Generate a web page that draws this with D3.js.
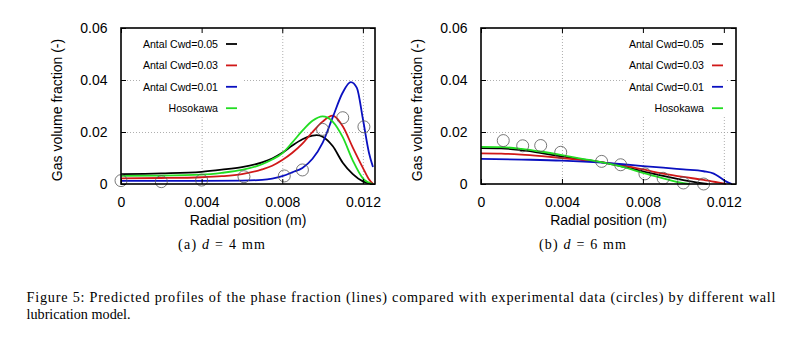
<!DOCTYPE html>
<html><head><meta charset="utf-8">
<script src="https://cdn.jsdelivr.net/npm/d3@7"></script>
<style>body{margin:0;background:#fff}svg{display:block}</style>
</head><body>
<svg id="c" width="800" height="349"></svg>
<script>
// ---------- data ----------
const seriesNames = ["Antal Cwd=0.05","Antal Cwd=0.03","Antal Cwd=0.01","Hosokawa"];
const seriesColors = ["#000000","#d01818","#0a10c0","#22dd22"];
const xTicks = [0, 0.004, 0.008, 0.012];
const xTickLabels = ["0","0.004","0.008","0.012"];
const yTicks = [0, 0.02, 0.04, 0.06];
const yTickLabels = ["0","0.02","0.04","0.06"];

// panel (a) d = 4 mm
const a_black = [[0,0.0038],[0.002,0.0041],[0.004,0.0047],[0.005,0.0055],[0.006,0.0065],[0.007,0.0083],[0.0075,0.0098],[0.008,0.0120],[0.0085,0.0148],[0.009,0.0172],[0.0095,0.0186],[0.0097,0.0188],[0.010,0.0182],[0.0105,0.0146],[0.011,0.0082],[0.0115,0.0038],[0.012,0.0010],[0.0125,0]];
const a_red = [[0,0.0022],[0.002,0.0023],[0.004,0.0026],[0.005,0.0030],[0.006,0.0038],[0.007,0.0056],[0.0075,0.0070],[0.008,0.0092],[0.0085,0.0120],[0.009,0.0155],[0.0095,0.0200],[0.010,0.0240],[0.0105,0.0263],[0.011,0.0222],[0.0115,0.0140],[0.012,0.0062],[0.0123,0.0018],[0.0125,0]];
const a_blue = [[0,0.0012],[0.004,0.0012],[0.006,0.0013],[0.007,0.0016],[0.0075,0.0021],[0.008,0.0030],[0.0085,0.0045],[0.009,0.0062],[0.0095,0.0097],[0.010,0.0158],[0.0105,0.0256],[0.011,0.0352],[0.0114,0.0392],[0.0117,0.0370],[0.012,0.0250],[0.0123,0.0120],[0.0125,0.0065]];
const a_green = [[0,0.0031],[0.002,0.0032],[0.004,0.0036],[0.005,0.0043],[0.006,0.0054],[0.007,0.0076],[0.0075,0.0094],[0.008,0.0118],[0.0085,0.0160],[0.009,0.0205],[0.0095,0.0243],[0.010,0.0260],[0.0105,0.0240],[0.011,0.0180],[0.0115,0.0090],[0.012,0.0022],[0.0125,0]];
const a_exp = [[0,0.0013],[0.002,0.0009],[0.004,0.0015],[0.0061,0.0028],[0.0081,0.0031],[0.009,0.0054],[0.010,0.021],[0.011,0.0255],[0.01205,0.022]];

// panel (b) d = 6 mm
const b_black = [[0,0.0138],[0.001,0.0137],[0.002,0.0130],[0.003,0.0119],[0.004,0.0106],[0.005,0.0095],[0.006,0.0083],[0.007,0.0067],[0.008,0.0049],[0.009,0.0031],[0.010,0.0015],[0.0105,0.0008],[0.0112,0]];
const b_red = [[0,0.0118],[0.001,0.0117],[0.002,0.0113],[0.003,0.0107],[0.004,0.0100],[0.005,0.0092],[0.006,0.0083],[0.007,0.0072],[0.008,0.0056],[0.009,0.0040],[0.010,0.0027],[0.011,0.0016],[0.0117,0.0006],[0.0121,0]];
const b_blue = [[0,0.0097],[0.002,0.0094],[0.004,0.0090],[0.006,0.0082],[0.007,0.0076],[0.008,0.0069],[0.009,0.0063],[0.010,0.0056],[0.011,0.0049],[0.0115,0.0040],[0.0118,0.0026],[0.0121,0.0010],[0.0124,0]];
const b_green = [[0,0.0143],[0.001,0.0142],[0.002,0.0135],[0.003,0.0124],[0.004,0.0111],[0.005,0.0097],[0.006,0.0083],[0.007,0.0066],[0.008,0.0043],[0.009,0.0022],[0.0098,0.0006],[0.0103,0]];
const b_exp = [[0.0011,0.0167],[0.00206,0.0147],[0.00295,0.0148],[0.00394,0.0122],[0.00596,0.0087],[0.0069,0.0074],[0.0081,0.0039],[0.009,0.0022],[0.010,0.0004],[0.011,0.0]];

const xMax = 0.0126, yMax = 0.06;

const panels = [
  {x0:121, x1:375, series:[a_black,a_red,a_blue,a_green], exp:a_exp,
   legendRight:218, legendBox:[140,29,102,88], caption:"4", capX:178, capLetter:"(a)"},
  {x0:481, x1:736, series:[b_black,b_red,b_blue,b_green], exp:b_exp,
   legendRight:704, legendBox:[626,29,101,88], caption:"6", capX:539, capLetter:"(b)"}
];
const yTop = 28, yBot = 184;
const svg = d3.select("#c");
const font = "Liberation Sans, Arial, Helvetica, sans-serif";

panels.forEach(p => {
  const x = d3.scaleLinear().domain([0, xMax]).range([p.x0, p.x1]);
  const y = d3.scaleLinear().domain([0, yMax]).range([yBot, yTop]);
  const g = svg.append("g");
  const W = p.x1 - p.x0, H = yBot - yTop;

  // grid
  const gx = g.append("g").attr("transform", `translate(0,${yBot})`)
    .call(d3.axisBottom(x).tickValues(xTicks.filter(v => v > 0)).tickSize(-H).tickFormat(""));
  const gy = g.append("g").attr("transform", `translate(${p.x0},0)`)
    .call(d3.axisLeft(y).tickValues(yTicks.filter(v => v > 0 && v < yMax)).tickSize(-W).tickFormat(""));
  [gx, gy].forEach(s => {
    s.select(".domain").remove();
    s.selectAll("line").attr("stroke", "#9a9a9a").attr("stroke-width", 0.8).attr("stroke-dasharray", "1,2");
  });

  // legend background (opaque)
  g.append("rect").attr("x", p.legendBox[0]).attr("y", p.legendBox[1])
    .attr("width", p.legendBox[2]).attr("height", p.legendBox[3]).attr("fill", "#fff");

  // curves
  const line = d3.line().x(d => x(d[0])).y(d => y(d[1])).curve(d3.curveMonotoneX);
  p.series.forEach((s, i) => {
    g.append("path").datum(s).attr("d", line).attr("fill", "none")
      .attr("stroke", seriesColors[i]).attr("stroke-width", 1.8);
  });

  // experimental circles
  g.selectAll("circle.e").data(p.exp).enter().append("circle")
    .attr("cx", d => x(d[0])).attr("cy", d => y(d[1])).attr("r", 6)
    .attr("fill", "none").attr("stroke", "#555").attr("stroke-width", 0.8);

  // axes with inward ticks (mirrored)
  const axB = g.append("g").attr("transform", `translate(0,${yBot})`)
    .call(d3.axisBottom(x).tickValues(xTicks).tickSizeInner(-5).tickSizeOuter(0).tickPadding(13)
      .tickFormat((d, i) => xTickLabels[i]));
  const axT = g.append("g").attr("transform", `translate(0,${yTop})`)
    .call(d3.axisTop(x).tickValues(xTicks).tickSizeInner(-5).tickSizeOuter(0).tickFormat(""));
  const axL = g.append("g").attr("transform", `translate(${p.x0},0)`)
    .call(d3.axisLeft(y).tickValues(yTicks).tickSizeInner(-5).tickSizeOuter(0).tickPadding(13)
      .tickFormat((d, i) => yTickLabels[i]));
  const axR = g.append("g").attr("transform", `translate(${p.x1},0)`)
    .call(d3.axisRight(y).tickValues(yTicks).tickSizeInner(-5).tickSizeOuter(0).tickFormat(""));
  [axB, axT, axL, axR].forEach(s => {
    s.select(".domain").remove();
    s.selectAll("line").attr("stroke", "#000").attr("stroke-width", 1);
    s.selectAll("text").attr("font-family", font).attr("font-size", 14).attr("fill", "#000");
  });
  axL.selectAll("text").attr("dx", "-0.5").attr("dy", "0.35em");
  axB.selectAll("text").attr("dy", "0.72em");

  // frame
  g.append("rect").attr("x", p.x0).attr("y", yTop).attr("width", W).attr("height", H)
    .attr("fill", "none").attr("stroke", "#000").attr("stroke-width", 1.6);

  // axis titles
  g.append("text").attr("x", (p.x0 + p.x1) / 2).attr("y", 225).attr("text-anchor", "middle")
    .attr("font-family", font).attr("font-size", 14).text("Radial position (m)");
  g.append("text").attr("transform", `translate(${p.x0 - 59},${(yTop + yBot) / 2 + 4}) rotate(-90)`)
    .attr("text-anchor", "middle").attr("font-family", font).attr("font-size", 14)
    .text("Gas volume fraction (-)");

  // legend
  seriesNames.forEach((n, i) => {
    const cy = 44 + i * 21.4;
    g.append("text").attr("x", p.legendRight).attr("y", cy + 3.8).attr("text-anchor", "end")
      .attr("font-family", font).attr("font-size", 10.6).text(n);
    g.append("line").attr("x1", p.legendRight + 8).attr("x2", p.legendRight + 19)
      .attr("y1", cy).attr("y2", cy).attr("stroke", seriesColors[i]).attr("stroke-width", 1.8);
  });

  // sub caption
  const t = g.append("text").attr("x", p.capX).attr("y", 249)
    .attr("font-family", "Liberation Serif, DejaVu Serif, serif").attr("font-size", 14)
    .attr("textLength", 87).attr("lengthAdjust", "spacing");
  t.append("tspan").text(p.capLetter + " ");
  t.append("tspan").attr("font-style", "italic").text("d");
  t.append("tspan").text(" = " + p.caption + " mm");
});

// figure caption
const serif = "Liberation Serif, DejaVu Serif, serif";
svg.append("text").attr("x", 26.5).attr("y", 301.5).attr("font-family", serif).attr("font-size", 14.2)
  .attr("textLength", 749).attr("lengthAdjust", "spacing")
  .text("Figure 5: Predicted profiles of the phase fraction (lines) compared with experimental data (circles) by different wall");
svg.append("text").attr("x", 26.5).attr("y", 318.5).attr("font-family", serif).attr("font-size", 14.2)
  .text("lubrication model.");
</script>
</body></html>
